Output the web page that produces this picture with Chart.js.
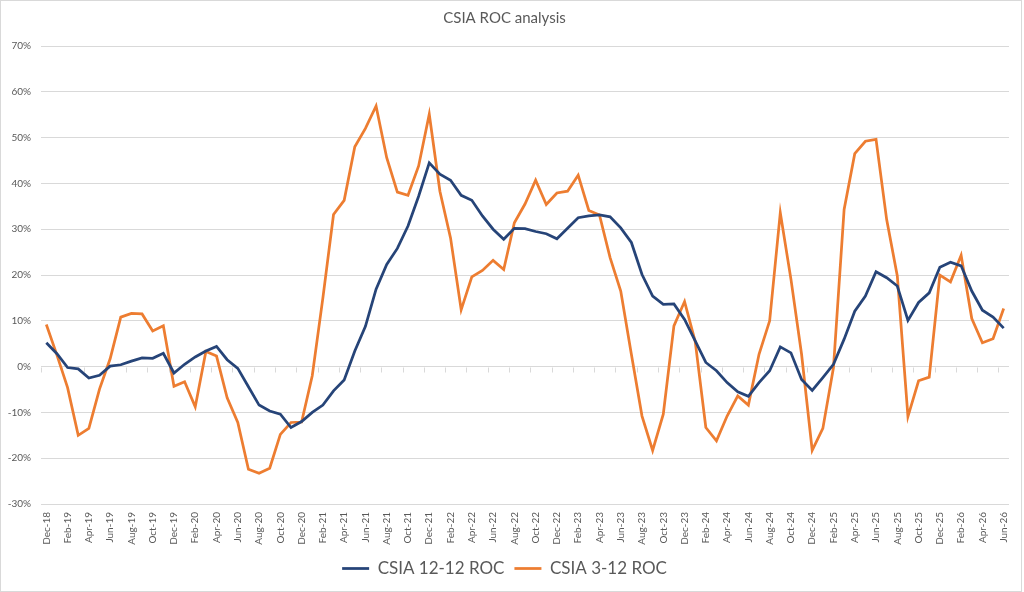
<!DOCTYPE html>
<html>
<head>
<meta charset="utf-8">
<title>CSIA ROC analysis</title>
<script src="https://cdn.jsdelivr.net/npm/chart.js@4.4.1/dist/chart.umd.min.js"></script>
<style>
    html, body { margin: 0; padding: 0; background: #fff; }
    #wrap { width: 1024px; height: 592px; position: relative; }
</style>
</head>
<body>
<div id="wrap"><canvas id="rocChart"></canvas></div>
<script>
const months = [
    'Dec-18',
    'Jan-19', 'Feb-19', 'Mar-19', 'Apr-19', 'May-19', 'Jun-19', 'Jul-19', 'Aug-19', 'Sep-19', 'Oct-19', 'Nov-19', 'Dec-19',
    'Jan-20', 'Feb-20', 'Mar-20', 'Apr-20', 'May-20', 'Jun-20', 'Jul-20', 'Aug-20', 'Sep-20', 'Oct-20', 'Nov-20', 'Dec-20',
    'Jan-21', 'Feb-21', 'Mar-21', 'Apr-21', 'May-21', 'Jun-21', 'Jul-21', 'Aug-21', 'Sep-21', 'Oct-21', 'Nov-21', 'Dec-21',
    'Jan-22', 'Feb-22', 'Mar-22', 'Apr-22', 'May-22', 'Jun-22', 'Jul-22', 'Aug-22', 'Sep-22', 'Oct-22', 'Nov-22', 'Dec-22',
    'Jan-23', 'Feb-23', 'Mar-23', 'Apr-23', 'May-23', 'Jun-23', 'Jul-23', 'Aug-23', 'Sep-23', 'Oct-23', 'Nov-23', 'Dec-23',
    'Jan-24', 'Feb-24', 'Mar-24', 'Apr-24', 'May-24', 'Jun-24', 'Jul-24', 'Aug-24', 'Sep-24', 'Oct-24', 'Nov-24', 'Dec-24',
    'Jan-25', 'Feb-25', 'Mar-25', 'Apr-25', 'May-25', 'Jun-25', 'Jul-25', 'Aug-25', 'Sep-25', 'Oct-25', 'Nov-25', 'Dec-25',
    'Jan-26', 'Feb-26', 'Mar-26', 'Apr-26', 'May-26', 'Jun-26'
];

// 12-12 rate of change, %
const roc1212 = [
    5.2,
    2.8, -0.2, -0.5, -2.5, -1.9, 0.1, 0.4, 1.2, 1.9, 1.8, 2.9, -1.4,
    0.5, 2.1, 3.4, 4.4, 1.5, -0.4, -4.4, -8.4, -9.7, -10.4, -13.3, -12.0,
    -10.0, -8.4, -5.3, -2.9, 3.4, 8.8, 16.9, 22.3, 25.8, 30.7, 37.2, 44.5,
    42.0, 40.7, 37.4, 36.3, 32.9, 30.0, 27.8, 30.2, 30.1, 29.5, 29.0, 27.9,
    30.2, 32.5, 32.9, 33.1, 32.7, 30.3, 27.1, 20.1, 15.4, 13.6, 13.7, 10.3,
    5.6, 0.9, -0.9, -3.5, -5.5, -6.5, -3.5, -0.9, 4.3, 3.0, -2.8, -5.2,
    -2.4, 0.5, 6.0, 12.1, 15.4, 20.7, 19.4, 17.6, 10.1, 14.0, 16.1, 21.7,
    22.8, 22.0, 16.5, 12.3, 10.8, 8.4
];

// 3-12 rate of change, %
const roc312 = [
    9.2,
    2.5, -4.6, -15.0, -13.5, -4.9, 1.7, 10.8, 11.6, 11.5, 7.8, 8.9, -4.3,
    -3.3, -8.8, 3.3, 2.3, -6.8, -12.2, -22.4, -23.3, -22.2, -14.8, -12.2, -12.1,
    -2.0, 15.0, 33.2, 36.3, 48.0, 52.0, 56.9, 45.6, 38.1, 37.4, 43.8, 55.1,
    38.3, 28.1, 12.4, 19.6, 21.0, 23.2, 21.2, 31.4, 35.5, 40.7, 35.4, 37.9,
    38.3, 41.8, 34.1, 33.1, 23.8, 16.5, 2.7, -10.8, -18.3, -10.4, 8.9, 14.2,
    5.5, -13.3, -16.2, -10.8, -6.4, -8.4, 2.7, 10.0, 33.6, 19.1, 2.7, -18.3,
    -13.5, -0.2, 34.3, 46.5, 49.2, 49.6, 32.1, 19.8, -10.9, -3.1, -2.3, 20.0,
    18.5, 24.3, 10.5, 5.2, 6.1, 12.7
];

const yMin = -30;
const yMax = 70;
const yStep = 10;

const textColor = '#595959';
const gridColor = '#d9d9d9';

// white page, thin frame and the small category tick marks on the 0% line
const frame = {
    id: 'frame',
    beforeDraw(chart) {
        const { ctx, width, height } = chart;
        ctx.save();
        ctx.fillStyle = '#fff';
        ctx.fillRect(0, 0, width, height);
        ctx.strokeStyle = gridColor;
        ctx.lineWidth = 1;
        ctx.strokeRect(0.5, 0.5, width - 3, height - 1);
        ctx.restore();
    },
    beforeDatasetsDraw(chart) {
        const { ctx, scales: { x, y } } = chart;
        const half = (x.getPixelForValue(1) - x.getPixelForValue(0)) / 2;
        const y0 = Math.round(y.getPixelForValue(0)) + 0.5;
        ctx.save();
        ctx.strokeStyle = gridColor;
        ctx.lineWidth = 1;
        ctx.beginPath();
        for (let i = 0; i <= months.length; i += 2) {
            const px = Math.round(x.getPixelForValue(i) - half) + 0.5;
            ctx.moveTo(px, y0);
            ctx.lineTo(px, y0 + 5);
        }
        ctx.stroke();
        ctx.restore();
    }
};

const ctx = document.getElementById('rocChart').getContext('2d');

new Chart(ctx, {
    type: 'line',
    data: {
        labels: months,
        datasets: [
            {
                label: 'CSIA 12-12 ROC',
                data: roc1212,
                borderColor: '#264478',
                backgroundColor: '#264478',
                borderWidth: 2.75,
                pointRadius: 0,
                tension: 0,
            },
            {
                label: 'CSIA 3-12 ROC',
                data: roc312,
                borderColor: '#ed7d31',
                backgroundColor: '#ed7d31',
                borderWidth: 2.75,
                pointRadius: 0,
                tension: 0,
            }
        ]
    },
    options: {
        responsive: true,
        maintainAspectRatio: false,
        animation: false,
        layout: { padding: { left: 0, right: 15, top: 0, bottom: 5 } },
        plugins: {
            title: {
                display: true,
                text: 'CSIA ROC analysis',
                color: textColor,
                font: { family: 'Lato', size: 15, weight: 'normal' },
                padding: { top: 9, bottom: 19 }
            },
            legend: {
                position: 'bottom',
                labels: {
                    color: textColor,
                    font: { family: 'Lato', size: 17 },
                    usePointStyle: true,
                    pointStyle: 'line',
                    pointStyleWidth: 27,
                    padding: 10
                }
            },
            tooltip: { enabled: false }
        },
        scales: {
            x: {
                offset: true,
                grid: { display: false, drawTicks: false },
                border: { display: false },
                ticks: {
                    autoSkip: false,
                    minRotation: 90,
                    maxRotation: 90,
                    padding: 8,
                    color: textColor,
                    font: { family: 'Lato', size: 10 },
                    callback: (v, i) => (i % 2 === 0 ? months[i] : '')
                },
                afterFit: (scale) => { scale.height = 46; }
            },
            y: {
                min: yMin,
                max: yMax,
                grid: { color: gridColor, drawTicks: false },
                border: { display: false },
                ticks: {
                    stepSize: yStep,
                    padding: 10,
                    color: textColor,
                    font: { family: 'Lato', size: 10 },
                    callback: (v) => v + '%'
                },
                afterFit: (scale) => { scale.width = 41; }
            }
        }
    },
    plugins: [frame]
});
</script>
</body>
</html>
